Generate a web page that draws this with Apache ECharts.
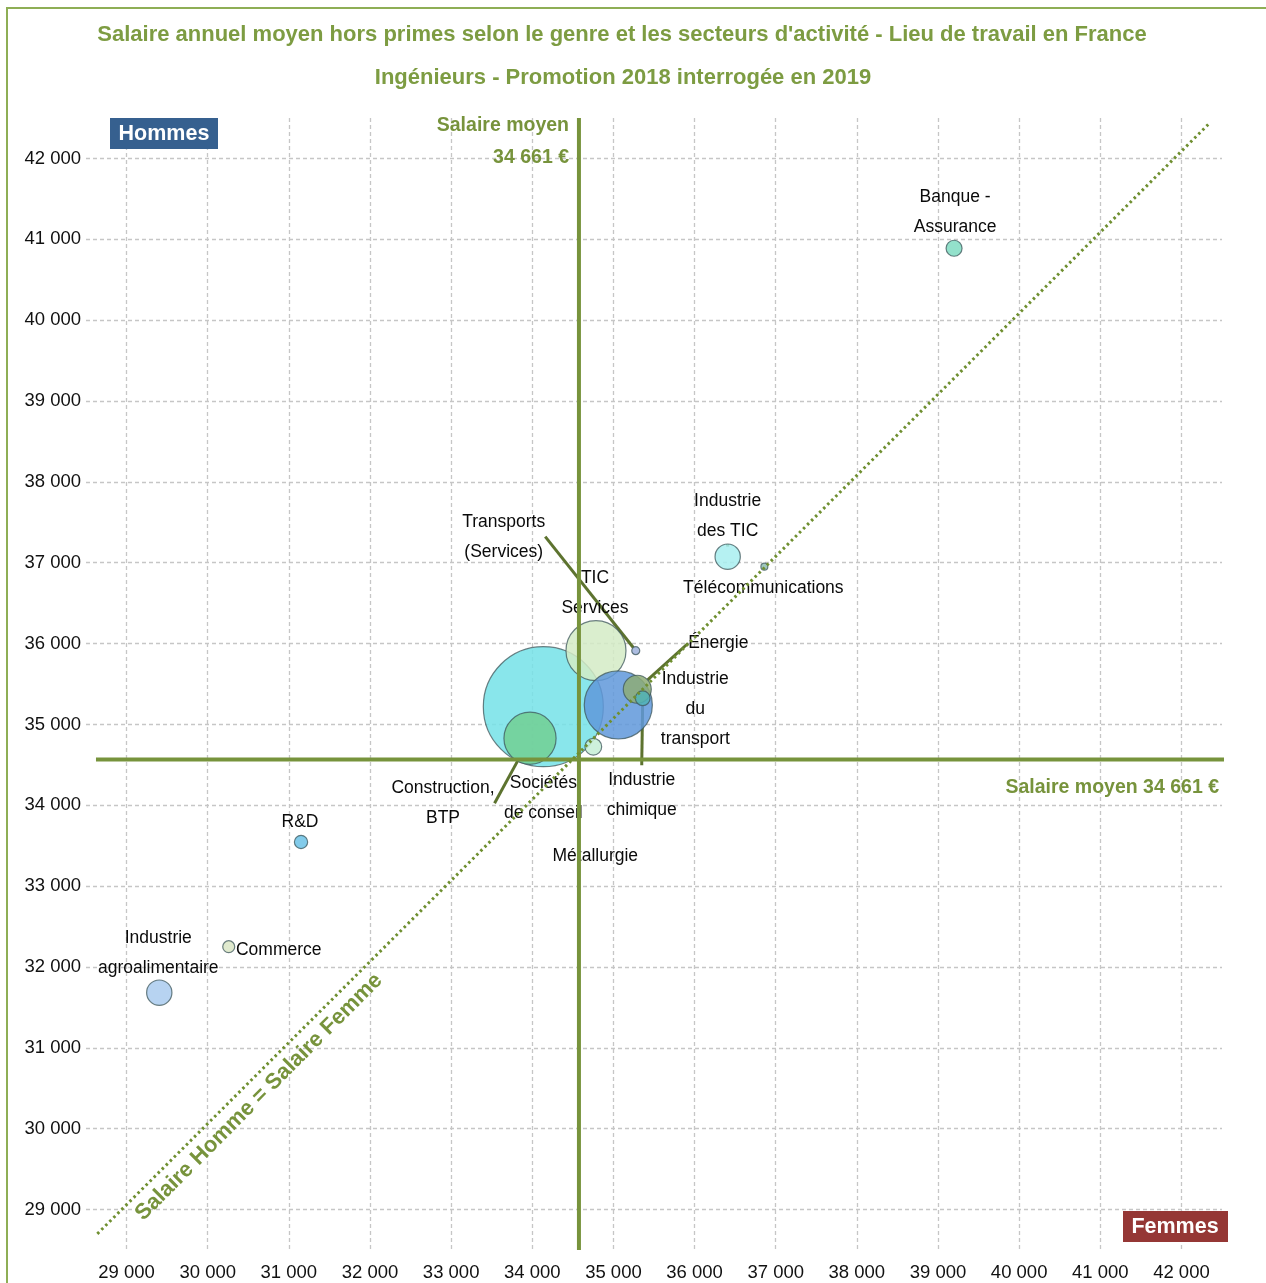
<!DOCTYPE html>
<html><head><meta charset="utf-8">
<script src="https://cdn.jsdelivr.net/npm/echarts@6/dist/echarts.min.js"></script>
<style>html,body{margin:0;padding:0;background:#fff}#c{width:1266px;height:1283px}</style>
</head><body><div id="c"></div>
<script>
// ---- data ----
const secteurs = ['Sociétés de conseil', 'TIC Services', 'Industrie du transport', 'Construction, BTP', 'Énergie',
  'Industrie chimique', 'Transports (Services)', 'Métallurgie', 'Industrie des TIC', 'Télécommunications',
  'Banque - Assurance', 'R&D', 'Commerce', 'Industrie agroalimentaire'];
const salaireFemmes = [34136, 34785, 35060, 33972, 35294, 35361, 35275, 34752, 36408, 36860, 39198, 31150, 30259, 29403];
const salaireHommes = [35220, 35912, 35241, 34829, 35435, 35323, 35912, 34725, 37075, 36951, 40889, 33546, 32251, 31683];
const effectifs = [1800, 450, 580, 340, 98, 27, 8, 35, 80, 6, 32, 22, 18, 80];
const xTicks = [29000, 30000, 31000, 32000, 33000, 34000, 35000, 36000, 37000, 38000, 39000, 40000, 41000, 42000];
const yTicks = [29000, 30000, 31000, 32000, 33000, 34000, 35000, 36000, 37000, 38000, 39000, 40000, 41000, 42000];
const salaireMoyenTexte = '34 661 €';
const ligneMoyenneX = 34575;   // position of the drawn average line
const ligneMoyenneY = 34565;
const diagonale = [[28640, 28700], [42330, 42420]];

// ---- styles (kept apart from data) ----
const couleurs = ['#74e2e8', '#d4ebc6', '#5f98da', '#72cf93', '#8dac76', '#50b3b6', '#9fb2dc', '#c6efd6',
  '#a8eef0', '#8fbcb4', '#80dcc2', '#6cc2e6', '#dbe6c5', '#aacbee'];
const etiquettes = {
  'Sociétés de conseil': {t: 'Sociétés\nde conseil', o: [0, 92]},
  'TIC Services': {t: 'TIC\nServices', o: [-1, -58]},
  'Industrie du transport': {t: 'Industrie\ndu\ntransport', o: [77, 4]},
  'Construction, BTP': {t: 'Construction,\nBTP', o: [-87, 65], l: true},
  'Énergie': {t: 'Énergie', o: [81, -46], l: true},
  'Industrie chimique': {t: 'Industrie\nchimique', o: [-1, 97], l: true},
  'Transports (Services)': {t: 'Transports\n(Services)', o: [-132, -114], l: true},
  'Métallurgie': {t: 'Métallurgie', o: [2, 110]},
  'Industrie des TIC': {t: 'Industrie\ndes TIC', o: [0, -40], l: true},
  'Télécommunications': {t: 'Télécommunications', o: [-1, 21]},
  'Banque - Assurance': {t: 'Banque -\nAssurance', o: [1, -36]},
  'R&D': {t: 'R&D', o: [-1, -20]},
  'Commerce': {t: 'Commerce', o: [50, 3]},
  'Industrie agroalimentaire': {t: 'Industrie\nagroalimentaire', o: [-1, -39]}
};

const OLIVE = '#77933c';
const TXT = '#7d9c42';
const FONT = '"Liberation Sans", Arial, sans-serif';
const fmt = v => String(v).replace(/\B(?=(\d{3})+(?!\d))/g, ' ');
const rgba = (hex, a) => {
  const n = parseInt(hex.slice(1), 16);
  return 'rgba(' + (n >> 16) + ',' + ((n >> 8) & 255) + ',' + (n & 255) + ',' + a + ')';
};

const bubbles = secteurs.map((s, i) => {
  const e = etiquettes[s];
  return {
    name: s,
    value: [salaireFemmes[i], salaireHommes[i], effectifs[i]],
    itemStyle: {color: rgba(couleurs[i], 0.85)},
    label: {formatter: e.t, offset: e.o},
    labelLine: {show: !!e.l}
  };
});

const chart = echarts.init(document.getElementById('c'), null, {renderer: 'canvas'});
chart.setOption({
  animation: false,
  backgroundColor: '#ffffff',
  grid: {left: 86, right: 44, top: 118, bottom: 33, containLabel: false},
  xAxis: {
    type: 'value', min: 28500, max: 42500,
    axisLine: {show: false},
    axisTick: {show: false, customValues: xTicks},
    axisLabel: {customValues: xTicks, formatter: fmt, margin: 13, color: '#111', fontFamily: FONT, fontSize: 18.5},
    splitLine: {show: true, lineStyle: {color: '#c6c6c6', type: [4, 3], width: 1.3}}
  },
  yAxis: {
    type: 'value', min: 28500, max: 42500,
    axisLine: {show: false},
    axisTick: {show: false, customValues: yTicks},
    axisLabel: {customValues: yTicks, formatter: fmt, margin: 5, color: '#111', fontFamily: FONT, fontSize: 18.5},
    splitLine: {show: true, lineStyle: {color: '#c6c6c6', type: [4, 3], width: 1.3}}
  },
  series: [
    {
      type: 'scatter', z: 2,
      data: bubbles,
      symbolSize: v => 2 * Math.sqrt(2 * v[2]),
      itemStyle: {opacity: 1, borderColor: 'rgba(60,85,90,0.75)', borderWidth: 1.2},
      label: {show: true, position: 'inside', color: '#0a0a0a', fontFamily: FONT, fontSize: 17.5,
        lineHeight: 30, align: 'center', verticalAlign: 'middle', textBorderWidth: 0},
      labelLine: {lineStyle: {color: '#5d732f', width: 3}},
      emphasis: {disabled: true}
    },
    {
      type: 'line', z: 4, silent: true, symbol: 'none', clip: false,
      data: [[ligneMoyenneX, 28500], [ligneMoyenneX, 42500]],
      lineStyle: {color: OLIVE, width: 4}
    },
    {
      type: 'line', z: 4, silent: true, symbol: 'none', clip: false,
      data: [[28623, ligneMoyenneY], [42574, ligneMoyenneY]],
      lineStyle: {color: OLIVE, width: 4}
    },
    {
      type: 'line', z: 4, silent: true, symbol: 'none', clip: false,
      data: diagonale,
      lineStyle: {color: '#6f8f30', width: 3, type: [2.5, 3.2]}
    }
  ],
  graphic: [
    {type: 'rect', shape: {x: 7, y: 8, width: 1275, height: 1300}, style: {fill: 'none', stroke: '#8eae55', lineWidth: 2}, z: 0, silent: true},
    {type: 'text', x: 622, y: 35, style: {text: "Salaire annuel moyen hors primes selon le genre et les secteurs d'activité - Lieu de travail en France",
      fill: TXT, font: 'bold 22px ' + FONT, align: 'center', verticalAlign: 'middle'}},
    {type: 'text', x: 623, y: 78, style: {text: 'Ingénieurs - Promotion 2018 interrogée en 2019',
      fill: TXT, font: 'bold 22px ' + FONT, align: 'center', verticalAlign: 'middle'}},
    {type: 'rect', shape: {x: 110, y: 118, width: 108, height: 31}, style: {fill: '#36608f'}, z: 10},
    {type: 'text', x: 164, y: 134, z: 11, style: {text: 'Hommes', fill: '#fff', font: 'bold 21.5px ' + FONT, align: 'center', verticalAlign: 'middle'}},
    {type: 'rect', shape: {x: 1123, y: 1211, width: 105, height: 31}, style: {fill: '#953735'}, z: 10},
    {type: 'text', x: 1175, y: 1227, z: 11, style: {text: 'Femmes', fill: '#fff', font: 'bold 21.5px ' + FONT, align: 'center', verticalAlign: 'middle'}},
    {type: 'text', x: 569, y: 126, z: 11, style: {text: 'Salaire moyen', fill: OLIVE, font: 'bold 19.5px ' + FONT, align: 'right', verticalAlign: 'middle'}},
    {type: 'text', x: 569, y: 158, z: 11, style: {text: salaireMoyenTexte, fill: OLIVE, font: 'bold 19.5px ' + FONT, align: 'right', verticalAlign: 'middle'}},
    {type: 'text', x: 1219, y: 788, z: 11, style: {text: 'Salaire moyen ' + salaireMoyenTexte, fill: OLIVE, font: 'bold 19.5px ' + FONT, align: 'right', verticalAlign: 'middle'}},
    {type: 'text', x: 259, y: 1097, rotation: Math.PI / 4, z: 11, style: {text: 'Salaire Homme = Salaire Femme', fill: OLIVE,
      font: 'bold 22px ' + FONT, align: 'center', verticalAlign: 'middle'}}
  ]
});
</script></body></html>
